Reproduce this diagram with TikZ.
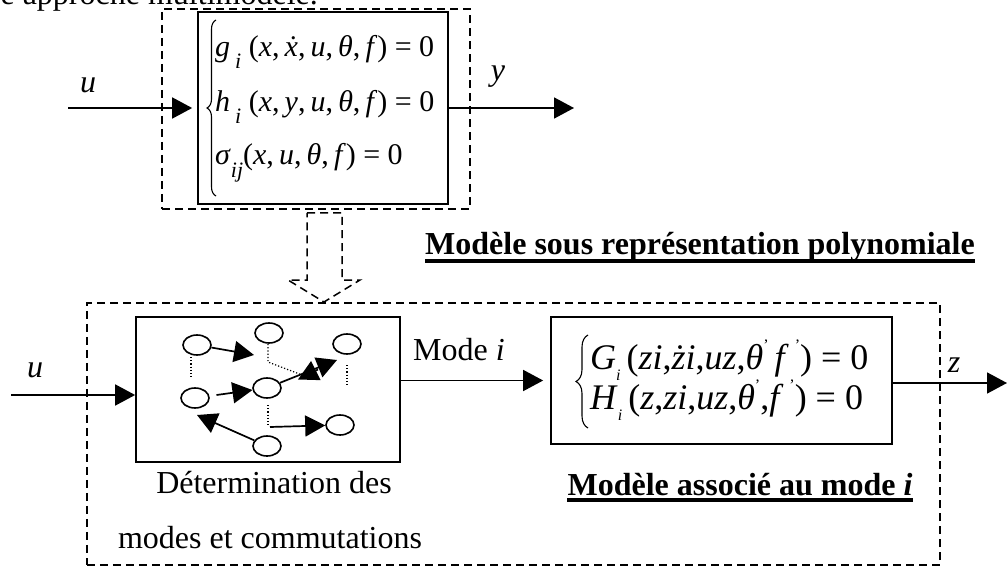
\documentclass[tikz,border=0pt]{standalone}
\usepackage{fontspec}
\setmainfont{Liberation Serif}
\usetikzlibrary{arrows.meta,shapes.geometric,decorations.pathreplacing}
\newcommand\lowsub[2][22bp]{\raisebox{-0.42em}{\fontsize{#1}{#1}\selectfont\textit{#2}}}
\newcommand\tinysub[1]{\raisebox{-0.3em}{\fontsize{16bp}{16bp}\selectfont\textit{#1}}}
\newcommand\prm{\raisebox{0.55em}{\fontsize{16bp}{16bp}\selectfont'}}
\newcommand\cm{,\hspace{0.17em}}
\begin{document}
\begin{tikzpicture}[x=1bp,y=-1bp,
 txt/.style={font=\fontsize{32bp}{38bp}\selectfont, inner sep=0pt},
 eqtop/.style={font=\fontsize{30bp}{36bp}\selectfont, inner sep=0pt, anchor=west},
 eqbot/.style={font=\fontsize{36bp}{42bp}\selectfont, inner sep=0pt, anchor=west},
 solidbox/.style={draw, line width=1.7bp, inner sep=0pt},
 dashbox/.style={draw, line width=1.5bp, dash pattern=on 8bp off 5bp, inner sep=0pt},
 arr/.style={line width=1.7bp, -{Triangle[length=20bp,width=21bp]}},
 dots/.style={line width=1.2bp, dash pattern=on 1.2bp off 2bp},
 mode/.style={ellipse, draw, line width=1.6bp, minimum width=28bp, minimum height=20bp, inner sep=0pt},
 bracestyle/.style={line width=1.1bp, decorate}]
\useasboundingbox (0,0) rectangle (1007,566);

% intro text (cut at top)
\node[txt, anchor=base east] (intro) at (318,5) {e approche multimodèle.};

% ---- top part
\node[dashbox, minimum width=308bp, minimum height=200bp] (outer) at (316,109) {};
\node[solidbox, minimum width=250bp, minimum height=192bp] (sys) at (323,108) {};
\coordinate (uin) at (68,108);
\coordinate (yout) at (574,108);
\draw[arr, shorten >=5bp] (uin) -- (uin -| sys.west);
\draw[arr] (sys.east) -- (yout);
\node[txt] (ulab) at (88,85) {\textit{u}};
\node[txt] (ylab) at (498,77) {\textit{y}};

\draw[bracestyle, decoration={brace, amplitude=9bp}] (216,196) -- (216,20);
\node[eqtop] (eq1) at (215,52) {\textit{g}\,\lowsub{i}\ (\textit{x}\cm\textit{\.x}\cm\textit{u}\cm\textit{θ}\cm\textit{f}) = 0};
\node[eqtop] (eq2) at (215,107) {\textit{h}\,\lowsub{i}\ (\textit{x}\cm\textit{y}\cm\textit{u}\cm\textit{θ}\cm\textit{f}) = 0};
\node[eqtop] (eq3) at (215,163) {\textit{σ}\lowsub{ij}(\textit{x}\cm\textit{u}\cm\textit{θ}\cm\textit{f}) = 0};

% hollow dashed arrow
\draw[line width=1.5bp, dash pattern=on 8bp off 5bp] (307,213) -- (342,213) -- (342,280) -- (360,280) -- (324,302) -- (288,280) -- (307,280) -- cycle;

\node[txt, anchor=base west] (lab1) at (425,255) {\textbf{Modèle sous représentation polynomiale}};
\draw[line width=3.5bp] ([yshift=-6bp]lab1.base west) -- ([yshift=-6bp]lab1.base east);

% ---- lower part
\node[dashbox, minimum width=853bp, minimum height=262bp] (lower) at (513.5,434) {};
\node[solidbox, minimum width=264bp, minimum height=145bp] (det) at (268,389.5) {};
\node[solidbox, minimum width=341bp, minimum height=127bp] (assoc) at (721.5,380.5) {};

\coordinate (uin2) at (11,395);
\draw[arr] (uin2) -- (uin2 -| det.west);
\node[txt] (ulab2) at (35,370) {\textit{u}};

\draw[arr, shorten >=7bp] (assoc.west -| det.east) -- (assoc.west);
\node[txt] (modelab) at (459,350) {Mode \textit{i}};

\coordinate (zout) at (1007,383);
\draw[arr] (assoc.east |- zout) -- (zout);
\node[txt] (zlab) at (954,365) {\textit{z}};

\draw[bracestyle, decoration={brace, amplitude=12bp}] (588,428) -- (588,335);
\node[eqbot] (eqG) at (590,360) {\textit{G}\tinysub{i}\,(\textit{zi},\textit{\.zi},\textit{uz},\textit{θ}\prm\,\textit{f}\,\prm) = 0};
\node[eqbot] (eqH) at (590,400) {\textit{H}\tinysub{i}\,(\textit{z},\textit{zi},\textit{uz},\textit{θ}\prm,\textit{f}\,\prm) = 0};

\node[txt, anchor=base] (det1) at (274,493) {Détermination des};
\node[txt, anchor=base] (det2) at (270,548) {modes et commutations};

\node[txt, anchor=base] (lab2) at (740,495) {\textbf{Modèle associé au mode \textit{i}}};
\draw[line width=3.5bp] ([yshift=-5bp]lab2.base west) -- ([yshift=-5bp]lab2.base east);

% ---- mode graph
\node[mode] (m1) at (197,345) {};
\node[mode] (m2) at (269,333) {};
\node[mode] (m3) at (347,344) {};
\node[mode] (m4) at (195,398) {};
\node[mode] (m5) at (267,388) {};
\node[mode] (m6) at (340,425) {};
\node[mode] (m7) at (267,446) {};

\coordinate (a1) at (254,355);
\draw[arr] (m1) -- (a1);
\draw[arr, shorten <=7bp] (m4) -- (m5);
\coordinate (a3) at (337,360);
\draw[arr] (m5) -- (a3);
\coordinate (b3s) at (318,369.5);
\coordinate (b3) at (298,379.5);
\draw[arr] (b3s) -- (b3);
\coordinate (a5) at (197,415);
\draw[arr] (m7) -- (a5);

\coordinate (d1a) at (191,357);
\coordinate (d1b) at (191,379);
\draw[dots] (d1a) -- (d1b);
\coordinate (d2a) at (268,344);
\coordinate (d2b) at (268,362);
\coordinate (d2c) at (302,375);
\draw[dots] (d2a) -- (d2b) -- (d2c);
\coordinate (d3a) at (347,365);
\coordinate (d3b) at (347,387);
\draw[dots] (d3a) -- (d3b);
\coordinate (d4a) at (268,405);
\coordinate (d4b) at (268,427);
\draw[dots] (d4a) -- (d4b);
\coordinate (a4s) at (270,427);
\draw[arr] (a4s) -- (m6);
\end{tikzpicture}
\end{document}
